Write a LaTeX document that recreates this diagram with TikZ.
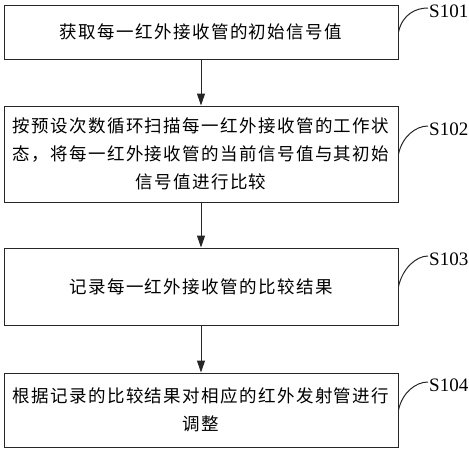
\documentclass[tikz,border=0pt]{standalone}
\usepackage{fontspec}
\setmainfont{Liberation Serif}
\newfontfamily\cjk[LetterSpace=8]{Noto Sans CJK SC}
\usetikzlibrary{arrows.meta}
\tikzset{
  stepbox/.style={draw=black!85, line width=1pt, minimum width=394pt, inner sep=0pt, align=center,
    font=\cjk\fontsize{17.5}{28}\selectfont},
  flow/.style={draw=black!85, line width=1pt, -{Triangle[length=12pt,width=8pt]}},
  steplabel/.style={anchor=west, inner sep=0pt, font=\fontsize{19}{22}\selectfont},
  leader/.style={draw=black!85, line width=1pt}
}
\begin{document}
\begin{tikzpicture}[x=1pt,y=-1pt]
\useasboundingbox (0,0) rectangle (469,450);
\node[stepbox, minimum height=54pt] (b1) at (201,32) {获取每一红外接收管的初始信号值};
\node[stepbox, minimum height=96pt] (b2) at (201,154) {按预设次数循环扫描每一红外接收管的工作状\\态，将每一红外接收管的当前信号值与其初始\\信号值进行比较};
\node[stepbox, minimum height=77pt] (b3) at (201,286.5) {记录每一红外接收管的比较结果};
\node[stepbox, minimum height=74pt] (b4) at (201,410) {根据记录的比较结果对相应的红外发射管进行\\调整};
\draw[flow] (b1) -- (b2);
\draw[flow] (b2) -- (b3);
\draw[flow] (b3) -- (b4);
\node[steplabel] (l1) at (429,11) {S101};
\node[steplabel] (l2) at (429,129) {S102};
\node[steplabel] (l3) at (429,259) {S103};
\node[steplabel] (l4) at (429,385) {S104};
\draw[leader] (b1.east) .. controls +(4,-18) and +(-12,0) .. ([xshift=-1pt,yshift=3pt]l1.west);
\draw[leader] (b2.east) .. controls +(4,-18) and +(-12,0) .. ([xshift=-1pt,yshift=3pt]l2.west);
\draw[leader] (b3.east) .. controls +(4,-18) and +(-12,0) .. ([xshift=-1pt,yshift=3pt]l3.west);
\draw[leader] (b4.east) .. controls +(4,-18) and +(-12,0) .. ([xshift=-1pt,yshift=3pt]l4.west);
\end{tikzpicture}
\end{document}
